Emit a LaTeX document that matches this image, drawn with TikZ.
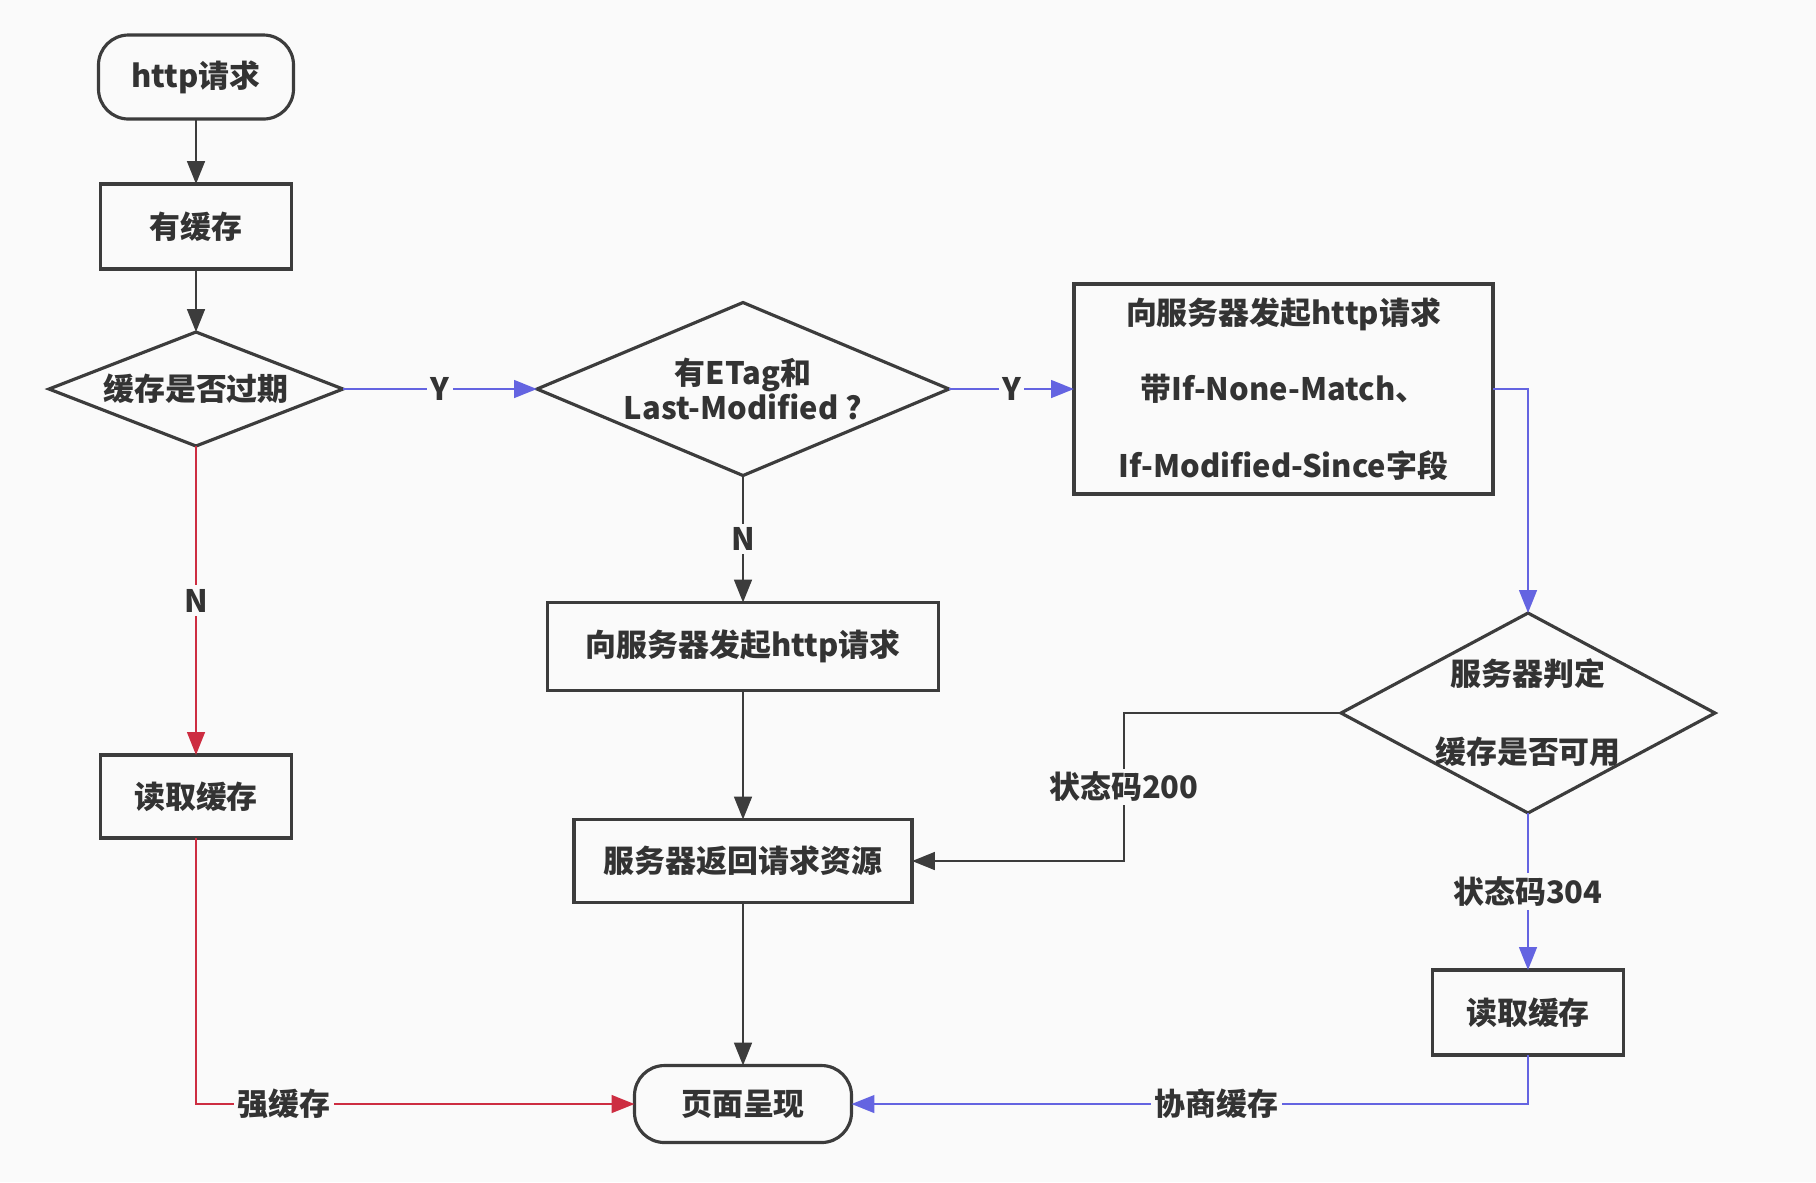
\documentclass[tikz,border=0pt]{standalone}
\usepackage{fontspec}
\setmainfont{Noto Sans CJK SC}
\usepackage{tikz}
\usetikzlibrary{positioning, arrows.meta, shapes.geometric}
\definecolor{bg}{RGB}{250,250,250}
\definecolor{blueline}{RGB}{100,100,225}
\definecolor{redline}{RGB}{205,45,65}
\definecolor{edge}{RGB}{60,60,60}

\begin{document}
\begin{tikzpicture}[>={Triangle[length=6.5pt, width=5pt]},
    every node/.style={font=\fontsize{8.8}{10.2}\selectfont\bfseries, text=black!80, outer sep=0pt},
    startstop/.style={draw=edge, line width=0.9pt, rounded corners=0.3cm, align=center},
    process/.style={draw=edge, line width=0.9pt, minimum width=1.91cm, minimum height=0.85cm, align=center},
    decision/.style={draw=edge, line width=0.9pt, diamond, inner sep=-1cm, align=center},
    blackflow/.style={edge, line width=0.8pt},
    blueflow/.style={blueline, line width=0.7pt},
    redflow/.style={redline, line width=0.7pt},
    onlabel/.style={fill=bg, inner sep=1pt}]
    \path[use as bounding box, fill=bg] (0,0) rectangle (18.16,-11.82);

    % Nodes
    \node[startstop, minimum width=1.95cm, minimum height=0.84cm] (req) at (1.96,-0.77) {http请求};
    \node[process, below=0.65cm of req] (has) {有缓存};
    \node[decision, below=0.63cm of has, minimum width=2.94cm, minimum height=1.14cm] (expired) {缓存是否过期};
    \node[decision, right=1.94cm of expired, minimum width=4.12cm, minimum height=1.73cm] (etag) {有ETag和\\Last-Modified ?};
    \node[process, right=1.25cm of etag, minimum width=4.19cm, minimum height=2.1cm] (cond) {向服务器发起http请求\\[11.5pt] 带If-None-Match、\\[11.5pt] If-Modified-Since字段};
    \node[decision, minimum width=3.74cm, minimum height=2cm] (judge) at (15.28,-7.13) {服务器判定\\[12pt] 缓存是否可用};
    \node[process, below=1.57cm of judge] (read2) {读取缓存};
    \node[process, below=1.27cm of etag, minimum width=3.91cm, minimum height=0.88cm] (send) {向服务器发起http请求};
    \node[process, below=1.29cm of send, minimum width=3.38cm, minimum height=0.83cm] (res) {服务器返回请求资源};
    \node[startstop, below=1.63cm of res, minimum width=2.17cm, minimum height=0.77cm] (page) {页面呈现};
    \node[process, below=3.09cm of expired, minimum height=0.83cm] (read1) {读取缓存};

    % Connections
    \draw[blackflow, ->] (req) -- (has);
    \draw[blackflow, ->] (has) -- (expired);
    \draw[blueflow, ->] (expired) -- node[onlabel] {Y} (etag);
    \draw[blueflow, ->] (etag) -- node[onlabel] {Y} (cond);
    \draw[redflow, ->] (expired) -- node[onlabel] {N} (read1);
    \draw[blackflow, ->] (etag) -- node[onlabel] {N} (send);
    \draw[blackflow, ->] (send) -- (res);
    \draw[blackflow, ->] (res) -- (page);
    \draw[blueflow, ->] (cond.east) -| (judge.north);
    \draw[blackflow, ->] (judge.west) -- ++(-2.17,0) |- node[pos=0.25, onlabel] {状态码200} (res.east);
    \draw[blueflow, ->] (judge) -- node[onlabel] {状态码304} (read2);
    \draw[redflow, ->] (read1) |- node[pos=0.6, onlabel] {强缓存} (page);
    \draw[blueflow, ->] (read2) |- node[pos=0.73, onlabel] {协商缓存} (page);
\end{tikzpicture}
\end{document}
